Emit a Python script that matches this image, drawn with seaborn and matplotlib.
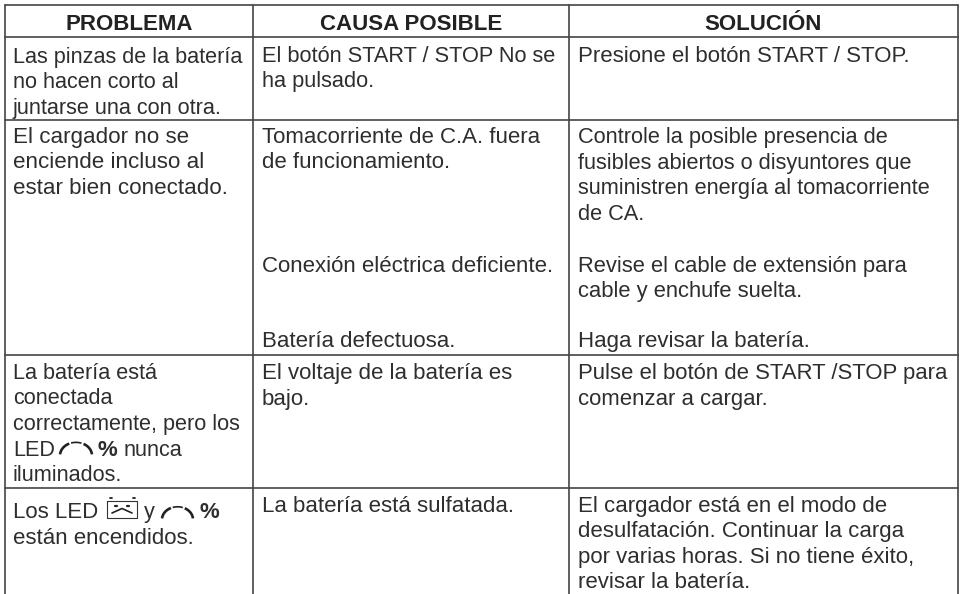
import numpy as np
import seaborn as sns
import matplotlib.pyplot as plt

sns.set_theme(style='white')
plt.rcParams['font.family'] = ['Liberation Sans', 'DejaVu Sans']

headers = ['PROBLEMA', 'CAUSA POSIBLE', 'SOLUCIÓN']

col1 = [
    ['Las pinzas de la batería', 'no hacen corto al', 'juntarse una con otra.'],
    ['El cargador no se', 'enciende incluso al', 'estar bien conectado.'],
    ['La batería está', 'conectada', 'correctamente, pero los', 'LED', 'iluminados.'],
    ['Los LED', 'están encendidos.'],
]
col2 = [
    ['El botón START / STOP No se', 'ha pulsado.'],
    ['Tomacorriente de C.A. fuera', 'de funcionamiento.'],
    ['Conexión eléctrica deficiente.'],
    ['Batería defectuosa.'],
    ['El voltaje de la batería es', 'bajo.'],
    ['La batería está sulfatada.'],
]
col3 = [
    ['Presione el botón START / STOP.'],
    ['Controle la posible presencia de', 'fusibles abiertos o disyuntores que',
     'suministren energía al tomacorriente', 'de CA.'],
    ['Revise el cable de extensión para', 'cable y enchufe suelta.'],
    ['Haga revisar la batería.'],
    ['Pulse el botón de START /STOP para', 'comenzar a cargar.'],
    ['El cargador está en el modo de', 'desulfatación. Continuar la carga',
     'por varias horas. Si no tiene éxito,', 'revisar la batería.'],
]

col1_y = [63, 143, 379, 518]
col2_y = [62, 143, 272, 347, 379, 512]
col3_y = [62, 143, 272, 347, 379, 512]

# font size per block, the source is typeset a bit unevenly
col1_fs = [15.6, 16.1, 15.6, 16.0]
col2_fs = [15.7, 16.0, 16.0, 16.0, 16.0, 16.0]
col3_fs = [16.0, 15.7, 15.8, 16.0, 15.9, 16.0]

INK = '#2e2e2e'
LINE = '#444444'
LH = 25.5

fig = plt.figure(figsize=(9.61, 5.94), dpi=100)
ax = fig.add_axes([0, 0, 1, 1])
ax.set_xlim(0, 961)
ax.set_ylim(594, 0)
ax.axis('off')

# grid
for y in [5, 37, 120, 355, 488]:
    ax.plot([4.5, 957.5], [y, y], color=LINE, lw=1.2)
for x in [4.5, 252.5, 569, 957.5]:
    ax.plot([x, x], [5, 594], color=LINE, lw=1.2)

for x, h in zip([129, 411, 763], headers):
    ax.text(x, 30, h, ha='center', va='baseline', fontsize=16, fontweight='bold', color='#222222')


def put(x, blocks, ys, sizes):
    for block, y0, fs in zip(blocks, ys, sizes):
        for i, line in enumerate(block):
            ax.text(x, y0 + i * LH, line, ha='left', va='baseline', fontsize=fs, color=INK)


def gauge(x0, x1, base):
    # three dashes on an arc, outer ones heavier
    cx, r = (x0 + x1) / 2, (x1 - x0) / 2
    for a, b, w in [(175, 115, 1.9), (108, 70, 1.2), (62, 5, 1.9)]:
        t = np.radians(np.linspace(a, b, 12))
        ax.plot(cx + r * np.cos(t), base - r * 0.82 * np.sin(t), color='#222222', lw=w, solid_capstyle='butt')


put(13, col1, col1_y, col1_fs)
put(262, col2, col2_y, col2_fs)
put(578, col3, col3_y, col3_fs)

# LED lines with the little icons
gauge(60, 92, 455.5)
ax.text(98, 455.5, '%', ha='left', va='baseline', fontsize=16, fontweight='bold', color=INK)
ax.text(124, 455.5, 'nunca', ha='left', va='baseline', fontsize=15.6, color=INK)

# sad battery icon
ax.plot([107, 137, 137, 107, 107], [501, 501, 518, 518, 501], color='#333333', lw=0.8)
ax.plot([109.5, 111.5], [497.5, 497.5], color='#222222', lw=1.3)
ax.plot([133, 135], [497.5, 497.5], color='#222222', lw=1.3)
ax.plot([114.5, 116.5], [506, 506], color='#222222', lw=1.6)
ax.plot([127, 129], [506, 506], color='#222222', lw=1.6)
ax.plot([112, 122, 132], [513, 508.5, 513], color='#222222', lw=1.2)

ax.text(143.5, 518, 'y', ha='left', va='baseline', fontsize=15.6, color=INK)
gauge(162, 193, 519.5)
ax.text(200, 518, '%', ha='left', va='baseline', fontsize=16, fontweight='bold', color=INK)

fig.savefig('out.png', dpi=100)
